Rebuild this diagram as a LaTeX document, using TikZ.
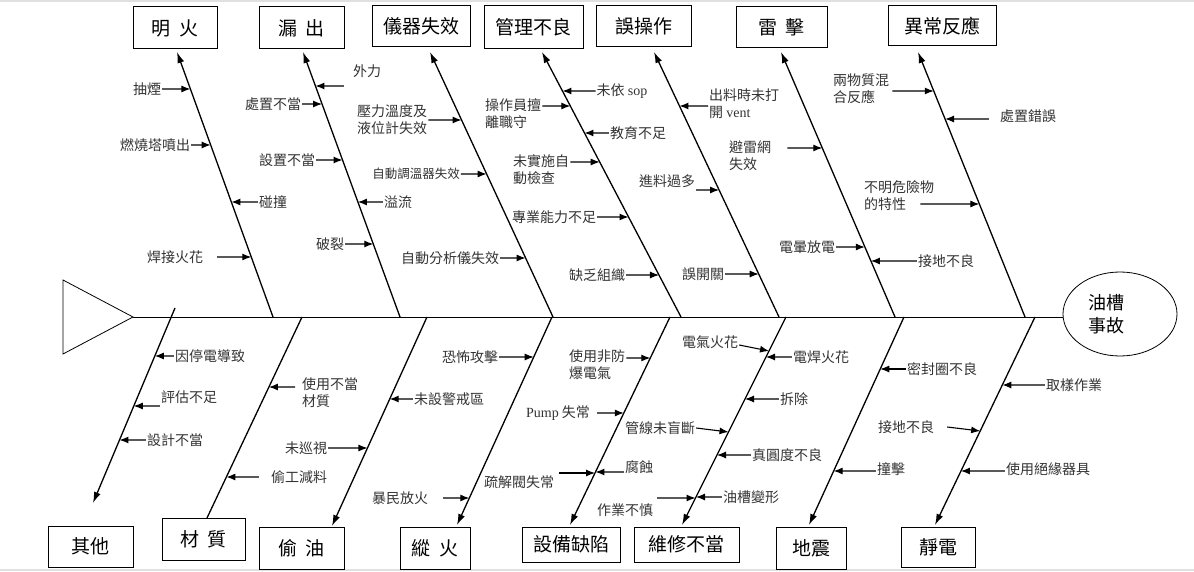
\documentclass[tikz,border=0pt]{standalone}
\usepackage{fontspec}
\setmainfont{Noto Sans CJK TC}
\newfontfamily\latin{Liberation Serif}
\usetikzlibrary{calc,arrows.meta,shapes.geometric}

\begin{document}
\begin{tikzpicture}[x=1pt, y=-1pt,
	bone/.style={line width=1.3pt, -{Latex[length=11pt,width=7pt]}},
	cause/.style={line width=1.1pt, -{Latex[length=9pt,width=7pt]}},
	cat/.style={draw, line width=1pt, inner sep=0pt, font=\fontsize{19}{22}\selectfont},
	lbl/.style={inner sep=1pt, text=black!80, font=\fontsize{14}{17}\selectfont},
	two/.style={lbl, anchor=west, align=left}]
			%%%%% START %%%%%
			\useasboundingbox (0,0) rectangle (1194,572);
			\draw[black!12, line width=2pt] (0,1) -- (1194,1);
			\draw[black!12, line width=2pt] (0,570) -- (1194,570);
			
			% head and spine
			\draw[line width=0.8pt] (63,280) -- (133,317) coordinate (head) -- (63,354) -- cycle;
			\node[draw, ellipse, line width=0.8pt, minimum width=114pt, minimum height=84pt] (tank) at (1120,314) {};
			\node[font=\fontsize{18}{23}\selectfont, align=center] (tanktxt) at ([xshift=-14pt]tank.center) {油槽\\事故};
			\draw[line width=1pt] (head) -- (head -| tank.west);
			
			% top categories
			\node[cat, minimum width=84pt, minimum height=42pt] (fire) at (175,28) {明\hspace{.45em}火};
			\node[cat, minimum width=85pt, minimum height=42pt] (leak) at (301.5,28) {漏\hspace{.45em}出};
			\node[cat, minimum width=98pt, minimum height=41pt] (inst) at (421,26.5) {儀器失效};
			\node[cat, minimum width=99pt, minimum height=43pt] (mgmt) at (533.5,27.5) {管理不良};
			\node[cat, minimum width=95pt, minimum height=41pt] (oper) at (643.5,26.5) {誤操作\hspace{15pt}};
			\node[cat, minimum width=91pt, minimum height=41pt] (thun) at (781.5,27.5) {雷\hspace{.45em}擊};
			\node[cat, minimum width=108pt, minimum height=40pt] (reac) at (942,26) {異常反應\hspace{10pt}};
			
			% bottom categories
			\node[cat, minimum width=85pt, minimum height=41pt] (other) at (90.5,546.5) {其他\hspace{20pt}};
			\node[cat, minimum width=83pt, minimum height=42pt] (mat) at (203.5,539) {材\hspace{.45em}質};
			\node[cat, minimum width=85pt, minimum height=42pt] (steal) at (301.5,548) {偷\hspace{.45em}油};
			\node[cat, minimum width=70pt, minimum height=42pt] (arson) at (435,548) {縱\hspace{.45em}火};
			\node[cat, minimum width=98pt, minimum height=35pt] (equip) at (571,544.5) {設備缺陷};
			\node[cat, minimum width=105pt, minimum height=35pt] (maint) at (686.5,544.5) {維修不當};
			\node[cat, minimum width=70pt, minimum height=42pt] (quake) at (811,548) {地震\hspace{14pt}};
			\node[cat, minimum width=74pt, minimum height=40pt] (stat) at (938,547) {靜電\hspace{12pt}};
			
			% bones
			\coordinate (s1) at (273,317); \coordinate (t1) at (177,52);
			\coordinate (s2) at (400,317); \coordinate (t2) at (303,52);
			\coordinate (s3) at (553,317); \coordinate (t3) at (430,52);
			\coordinate (s4) at (681,317); \coordinate (t4) at (542,52);
			\coordinate (s5) at (779,317); \coordinate (t5) at (654,52);
			\coordinate (s6) at (895,317); \coordinate (t6) at (781,52);
			\coordinate (s7) at (1025,317); \coordinate (t7) at (918,52);
			\draw[bone] (s1) -- (t1);
			\draw[bone] (s2) -- (t2);
			\draw[bone] (s3) -- (t3);
			\draw[bone] (s4) -- (t4);
			\draw[bone] (s5) -- (t5);
			\draw[bone] (s6) -- (t6);
			\draw[bone] (s7) -- (t7);
			
			\coordinate (a1) at (175,308); \coordinate (b1) at (93,503);
			\coordinate (a2) at (302,317); \coordinate (b2) at (207,518);
			\coordinate (a3) at (427,317); \coordinate (b3) at (332,526);
			\coordinate (a4) at (552,317); \coordinate (b4) at (457,525);
			\coordinate (a5) at (670,317); \coordinate (b5) at (570,525);
			\coordinate (a6) at (786,317); \coordinate (b6) at (682,525);
			\coordinate (a7) at (904,317); \coordinate (b7) at (809,525);
			\coordinate (a8) at (1035,317); \coordinate (b8) at (935,525);
			\draw[bone] (a1) -- (b1);
			\draw[bone, -] (a2) -- (b2);
			\draw[bone] (a3) -- (b3);
			\draw[bone] (a4) -- (b4);
			\draw[bone] (a5) -- (b5);
			\draw[bone] (a6) -- (b6);
			\draw[bone] (a7) -- (b7);
			\draw[bone] (a8) -- (b8);
			
			% 明火
			\node[lbl] (fire1) at (147,89) {抽煙};
			\draw[cause] (fire1.east) -- ($(t1)!37/265!(s1)$);
			\node[lbl] (fire2) at (155,145) {燃燒塔噴出};
			\draw[cause] (fire2.east) -- ($(t1)!93/265!(s1)$);
			\node[lbl] (fire3) at (273,202) {碰撞};
			\draw[cause] (fire3.west) -- ($(t1)!150/265!(s1)$);
			\node[lbl] (fire4) at (175,257) {焊接火花};
			\draw[cause] ([xshift=13pt]fire4.east) -- ($(t1)!205/265!(s1)$);
			
			% 漏出
			\node[lbl] (leak1) at (367,71) {外力};
			\draw[cause] ([xshift=-8pt,yshift=-15pt]leak1.west) -- ($(t2)!34/265!(s2)$);
			\node[lbl] (leak2) at (273,104) {處置不當};
			\draw[cause] (leak2.east) -- ($(t2)!52/265!(s2)$);
			\node[lbl] (leak3) at (287,160) {設置不當};
			\draw[cause] (leak3.east) -- ($(t2)!108/265!(s2)$);
			\node[lbl] (leak4) at (398,202) {溢流};
			\draw[cause] (leak4.west) -- ($(t2)!150/265!(s2)$);
			\node[lbl] (leak5) at (330,244) {破裂};
			\draw[cause] (leak5.east) -- ($(t2)!192/265!(s2)$);
			
			% 儀器失效
			\node[two] (inst1) at (356,120) {壓力溫度及\\液位計失效};
			\draw[cause] (inst1.east) -- ($(t3)!68/265!(s3)$);
			\node[lbl, font=\fontsize{12.5}{15}\selectfont] (inst2) at (416,174) {自動調溫器失效};
			\draw[cause] (inst2.east) -- ($(t3)!122/265!(s3)$);
			\node[lbl] (inst3) at (450,258) {自動分析儀失效};
			\draw[cause] (inst3.east) -- ($(t3)!206/265!(s3)$);
			
			% 管理不良
			\node[lbl] (mgmt1) at (622,91) {未依 {\latin sop}};
			\draw[cause] (mgmt1.west) -- ($(t4)!39/265!(s4)$);
			\node[two] (mgmt2) at (484,114) {操作員擅\\離職守};
			\draw[cause] ([yshift=8pt]mgmt2.east) -- ($(t4)!54/265!(s4)$);
			\node[lbl] (mgmt3) at (638,133) {教育不足};
			\draw[cause] (mgmt3.west) -- ($(t4)!81/265!(s4)$);
			\node[two] (mgmt4) at (512,170) {未實施自\\動檢查};
			\draw[cause] ([yshift=8pt]mgmt4.east) -- ($(t4)!110/265!(s4)$);
			\node[lbl] (mgmt5) at (554,217) {專業能力不足};
			\draw[cause] (mgmt5.east) -- ($(t4)!165/265!(s4)$);
			\node[lbl] (mgmt6) at (597,275) {缺乏組織};
			\draw[cause] (mgmt6.east) -- ($(t4)!223/265!(s4)$);
			
			% 誤操作
			\node[two] (oper1) at (708,104) {出料時未打\\開 {\latin vent}};
			\draw[cause] ([yshift=-2pt]oper1.west) -- ($(t5)!54/265!(s5)$);
			\node[lbl] (oper2) at (667,181) {進料過多};
			\draw[cause] ([yshift=-9pt]oper2.east) -- ($(t5)!138/265!(s5)$);
			\node[lbl] (oper3) at (703,274) {誤開關};
			\draw[cause] (oper3.east) -- ($(t5)!222/265!(s5)$);
			
			% 雷擊
			\node[two] (thun1) at (728,156) {避雷網\\失效};
			\draw[cause] ([xshift=15pt,yshift=8pt]thun1.east) -- ($(t6)!96/265!(s6)$);
			\node[lbl] (thun2) at (807,247) {電暈放電};
			\draw[cause] (thun2.east) -- ($(t6)!195/265!(s6)$);
			\node[lbl] (thun3) at (946,261) {接地不良};
			\draw[cause] (thun3.west) -- ($(t6)!209/265!(s6)$);
			
			% 異常反應
			\node[two] (reac1) at (832,89) {兩物質混\\合反應};
			\draw[cause] ([xshift=2pt,yshift=-2pt]reac1.east) -- ($(t7)!39/265!(s7)$);
			\node[lbl] (reac2) at (1028,116) {處置錯誤};
			\draw[cause] ([xshift=-10pt,yshift=-3pt]reac2.west) -- ($(t7)!67/265!(s7)$);
			\node[two] (reac3) at (863,196) {不明危險物\\的特性};
			\draw[cause] ([xshift=-15pt,yshift=-8pt]reac3.east) -- ($(t7)!152/265!(s7)$);
			
			% 其他
			\node[lbl] (other1) at (210,356) {因停電導致};
			\draw[cause] (other1.west) -- ($(a1)!48/195!(b1)$);
			\node[lbl] (other2) at (189,397) {評估不足};
			\draw[cause] ([yshift=-9pt]other2.west) -- ($(a1)!98/195!(b1)$);
			\node[lbl] (other3) at (175,440) {設計不當};
			\draw[cause] (other3.west) -- ($(a1)!132/195!(b1)$);
			
			% 材質
			\node[two] (mat1) at (301,393) {使用不當\\材質};
			\draw[cause] ([xshift=-6pt,yshift=6pt]mat1.west) -- ($(a2)!70/201!(b2)$);
			\node[lbl] (mat2) at (299,477) {偷工減料};
			\draw[cause] ([xshift=-11pt]mat2.west) -- ($(a2)!160/201!(b2)$);
			
			% 偷油
			\node[lbl] (steal1) at (306,448) {未巡視};
			\draw[cause] (steal1.east) -- ($(a3)!131/209!(b3)$);
			\node[lbl] (steal2) at (449,399) {未設警戒區};
			\draw[cause] (steal2.west) -- ($(a3)!82/209!(b3)$);
			
			% 縱火
			\node[lbl] (arson1) at (470,357) {恐怖攻擊};
			\draw[cause] (arson1.east) -- ($(a4)!40/208!(b4)$);
			\node[lbl] (arson2) at (400,498) {暴民放火};
			\draw[cause] ([xshift=14pt]arson2.east) -- ($(a4)!181/208!(b4)$);
			
			% 設備缺陷
			\node[two] (equip1) at (568,365) {使用非防\\爆電氣};
			\draw[cause] ([yshift=7pt]equip1.east) -- ($(a5)!41/208!(b5)$);
			\node[lbl] (equip2) at (558,413) {{\latin Pump} 失常};
			\draw[cause] ([xshift=6pt]equip2.east) -- ($(a5)!96/208!(b5)$);
			\node[lbl] (equip3) at (519,482) {疏解閥失常};
			\draw[cause] ([xshift=4pt,yshift=9pt]equip3.east) -- ($(a5)!156/208!(b5)$);
			\node[lbl] (equip4) at (639,467) {腐蝕};
			\draw[cause] ([yshift=-5pt]equip4.west) -- ($(a5)!155/208!(b5)$);
			
			% 維修不當
			\node[lbl] (maint1) at (710,342) {電氣火花};
			\draw[cause] ([yshift=-3pt]maint1.east) -- ($(a6)!34/208!(b6)$);
			\node[lbl] (maint2) at (821,357) {電焊火花};
			\draw[cause] (maint2.west) -- ($(a6)!40/208!(b6)$);
			\node[lbl] (maint3) at (794,399) {拆除};
			\draw[cause] (maint3.west) -- ($(a6)!82/208!(b6)$);
			\node[lbl] (maint4) at (660,428) {管線未盲斷};
			\draw[cause] (maint4.east) -- ($(a6)!115/208!(b6)$);
			\node[lbl] (maint5) at (787,455) {真圓度不良};
			\draw[cause] (maint5.west) -- ($(a6)!138/208!(b6)$);
			\node[lbl] (maint6) at (625,510) {作業不慎};
			\draw[cause] ([xshift=3pt,yshift=12pt]maint6.east) -- ($(a6)!181/208!(b6)$);
			\node[lbl] (maint7) at (751,497) {油槽變形};
			\draw[cause] (maint7.west) -- ($(a6)!180/208!(b6)$);
			
			% 地震
			\node[lbl] (quake1) at (942,369) {密封圈不良};
			\draw[cause] (quake1.west) -- ($(a7)!52/208!(b7)$);
			\node[lbl] (quake2) at (891,469) {撞擊};
			\draw[cause] ([yshift=-2pt]quake2.west) -- ($(a7)!154/208!(b7)$);
			
			% 靜電
			\node[lbl] (stat1) at (1074,385) {取樣作業};
			\draw[cause] (stat1.west) -- ($(a8)!68/208!(b8)$);
			\node[lbl] (stat2) at (906,427) {接地不良};
			\draw[cause] ([xshift=12pt]stat2.east) -- ($(a8)!114/208!(b8)$);
			\node[lbl] (stat3) at (1048,469) {使用絕緣器具};
			\draw[cause] ([yshift=-2pt]stat3.west) -- ($(a8)!154/208!(b8)$);
			
			%%%%% END %%%%%
\end{tikzpicture}
\end{document}
